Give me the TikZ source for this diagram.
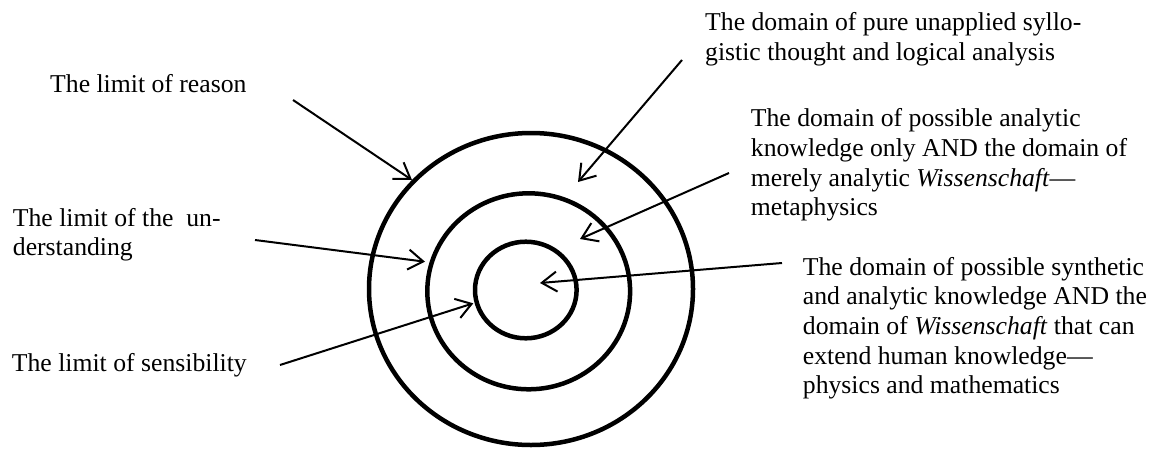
\documentclass[tikz,border=0pt]{standalone}
\usepackage{fontspec}
\setmainfont{Liberation Serif}
\usetikzlibrary{arrows.meta}
\begin{document}
\begin{tikzpicture}[x=1pt,y=-1pt,
  ring/.style={line width=4.5pt},
  pointer/.style={line width=2pt,-{Straight Barb[length=15pt,width=20pt]}},
  txt/.style={anchor=base west,inner sep=0pt,font=\fontsize{25.7}{29.7}\selectfont}
]
\useasboundingbox (0,0) rectangle (1153,450);
% rings
\draw[ring] (531,289) ellipse [x radius=162pt, y radius=156pt];
\draw[ring] (528.7,291.3) ellipse [x radius=101.4pt, y radius=98pt];
\draw[ring] (525.8,290) ellipse [x radius=50.8pt, y radius=48.3pt];
% texts
\node[txt] (reason) at (50,92) {The limit of reason};
\node[txt] (underst) at (12.7,226) {\begin{tabular}[t]{@{}l@{}}The limit of the\ \ un-\\derstanding\end{tabular}};
\node[txt] (sensib) at (11.7,371.7) {The limit of sensibility};
\node[txt] (pure) at (705,30.7) {\begin{tabular}[t]{@{}l@{}}The domain of pure unapplied syllo-\\gistic thought and logical analysis\end{tabular}};
\node[txt] (analytic) at (750.7,126.7) {\begin{tabular}[t]{@{}l@{}}The domain of possible analytic\\knowledge only AND the domain of\\merely analytic \textit{Wissenschaft}—\\metaphysics\end{tabular}};
\node[txt] (synth) at (802.7,275) {\begin{tabular}[t]{@{}l@{}}The domain of possible synthetic\\and analytic knowledge AND the\\domain of \textit{Wissenschaft} that can\\extend human knowledge—\\physics and mathematics\end{tabular}};
% arrow ends
\coordinate (a1s) at (293,100);   \coordinate (a1e) at (412,180);
\coordinate (a2s) at (255,240);   \coordinate (a2e) at (425,261.7);
\coordinate (a3s) at (280,365);   \coordinate (a3e) at (473.3,303.3);
\coordinate (a4s) at (682,60);    \coordinate (a4e) at (578,182);
\coordinate (a5s) at (729,173);   \coordinate (a5e) at (580,239);
\coordinate (a6s) at (782,263);   \coordinate (a6e) at (540,283);
\draw[pointer] (a1s) -- (a1e);
\draw[pointer] (a2s) -- (a2e);
\draw[pointer] (a3s) -- (a3e);
\draw[pointer] (a4s) -- (a4e);
\draw[pointer] (a5s) -- (a5e);
\draw[pointer] (a6s) -- (a6e);
\end{tikzpicture}
\end{document}
